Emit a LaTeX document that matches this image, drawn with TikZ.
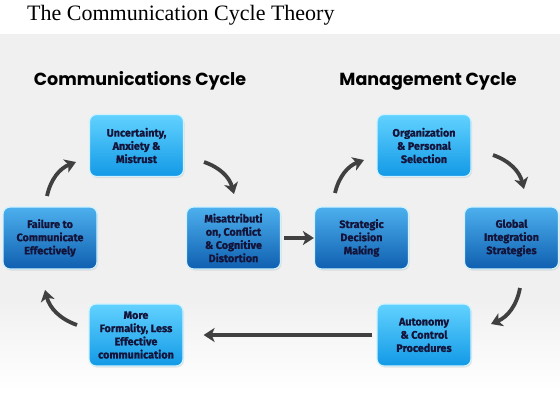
\documentclass[tikz,border=0pt]{standalone}
\usepackage{fontspec}
\setmainfont{Liberation Serif}
\newfontfamily\headfont{Poppins}
\newfontfamily\boxfont[BoldFeatures={FakeBold=1.2}]{Fira Sans}
\usetikzlibrary{arrows.meta,shadows}
\definecolor{bggray}{HTML}{F0F0F0}
\definecolor{arrowgray}{HTML}{404040}
\definecolor{navytext}{HTML}{14143A}
\definecolor{lighttop}{HTML}{62D2FF}
\definecolor{lightbot}{HTML}{1299E6}
\definecolor{darktop}{HTML}{4DB0EE}
\definecolor{darkbot}{HTML}{0F5FB0}
\tikzset{
  box/.style={rounded corners=7pt, minimum width=94pt, minimum height=62pt,
    draw=white!70!lighttop, line width=1.2pt, align=center,
    text=navytext, font=\boxfont\bfseries\fontsize{10.8}{13.2}\selectfont,
    inner sep=2pt, drop shadow={opacity=0.18, shadow xshift=1pt, shadow yshift=-1.5pt}},
  lightbox/.style={box, top color=lighttop, bottom color=lightbot},
  darkbox/.style={box, top color=darktop, bottom color=darkbot},
  flow/.style={draw=arrowgray, line width=3.8pt,
    -{Stealth[length=11pt, width=14pt, inset=3pt]}},
  cyc/.style={flow, bend left=28},
  header/.style={font=\headfont\bfseries\fontsize{17.5}{20}\selectfont, text=black, anchor=base},
}
\begin{document}
\begin{tikzpicture}[x=1pt,y=-1pt]
\useasboundingbox (0,0) rectangle (560,420);
\fill[white] (0,0) rectangle (560,420);
\fill[bggray] (0,34) rectangle (560,300);
\shade[top color=bggray, bottom color=white] (0,300) rectangle (560,390);

\node[anchor=base west, font=\fontsize{22}{24}\selectfont, inner sep=0pt] (title) at (27,21) {The Communication Cycle Theory};

\node[header] (hcomm) at (140,86) {Communications Cycle};
\node[header] (hman) at (428,86) {Management Cycle};

\node[lightbox] (unc) at (136.5,145.5) {Uncertainty,\\Anxiety \&\\Mistrust};
\node[darkbox] (fail) at (50,238) {Failure to\\Communicate\\Effectively};
\node[darkbox] (mis) at (233.5,238) {Misattributi\\on, Conflict\\\& Cognitive\\Distortion};
\node[darkbox] (strat) at (361.5,238) {Strategic\\Decision\\Making};
\node[lightbox] (org) at (424,145.5) {Organization\\\& Personal\\Selection};
\node[darkbox] (glob) at (511.5,238) {Global\\Integration\\Strategies};
\node[lightbox] (more) at (136,335) {More\\Formality, Less\\Effective\\communication};
\node[lightbox] (auto) at (424,335) {Autonomy\\\& Control\\Procedures};

\coordinate (a1s) at (47,196); \coordinate (a1e) at (76,162);
\coordinate (a2s) at (204,162); \coordinate (a2e) at (234,194);
\coordinate (a4s) at (335,193); \coordinate (a4e) at (364,160);
\coordinate (a5s) at (493,155); \coordinate (a5e) at (524,189);
\coordinate (a6s) at (520,288); \coordinate (a6e) at (491,324);
\coordinate (a8s) at (77,325); \coordinate (a8e) at (45,290);

\draw[cyc] (a1s) to (a1e);
\draw[cyc] (a2s) to (a2e);
\draw[flow] (mis.east) ++(3pt,0) coordinate (m3) (m3) -- (strat.west);
\draw[cyc] (a4s) to (a4e);
\draw[cyc] (a5s) to (a5e);
\draw[cyc] (a6s) to (a6e);
\draw[flow] (auto.west) ++(-4pt,0) coordinate (au) (au) -- ([xshift=20pt]more.east);
\draw[cyc] (a8s) to (a8e);
\end{tikzpicture}
\end{document}
